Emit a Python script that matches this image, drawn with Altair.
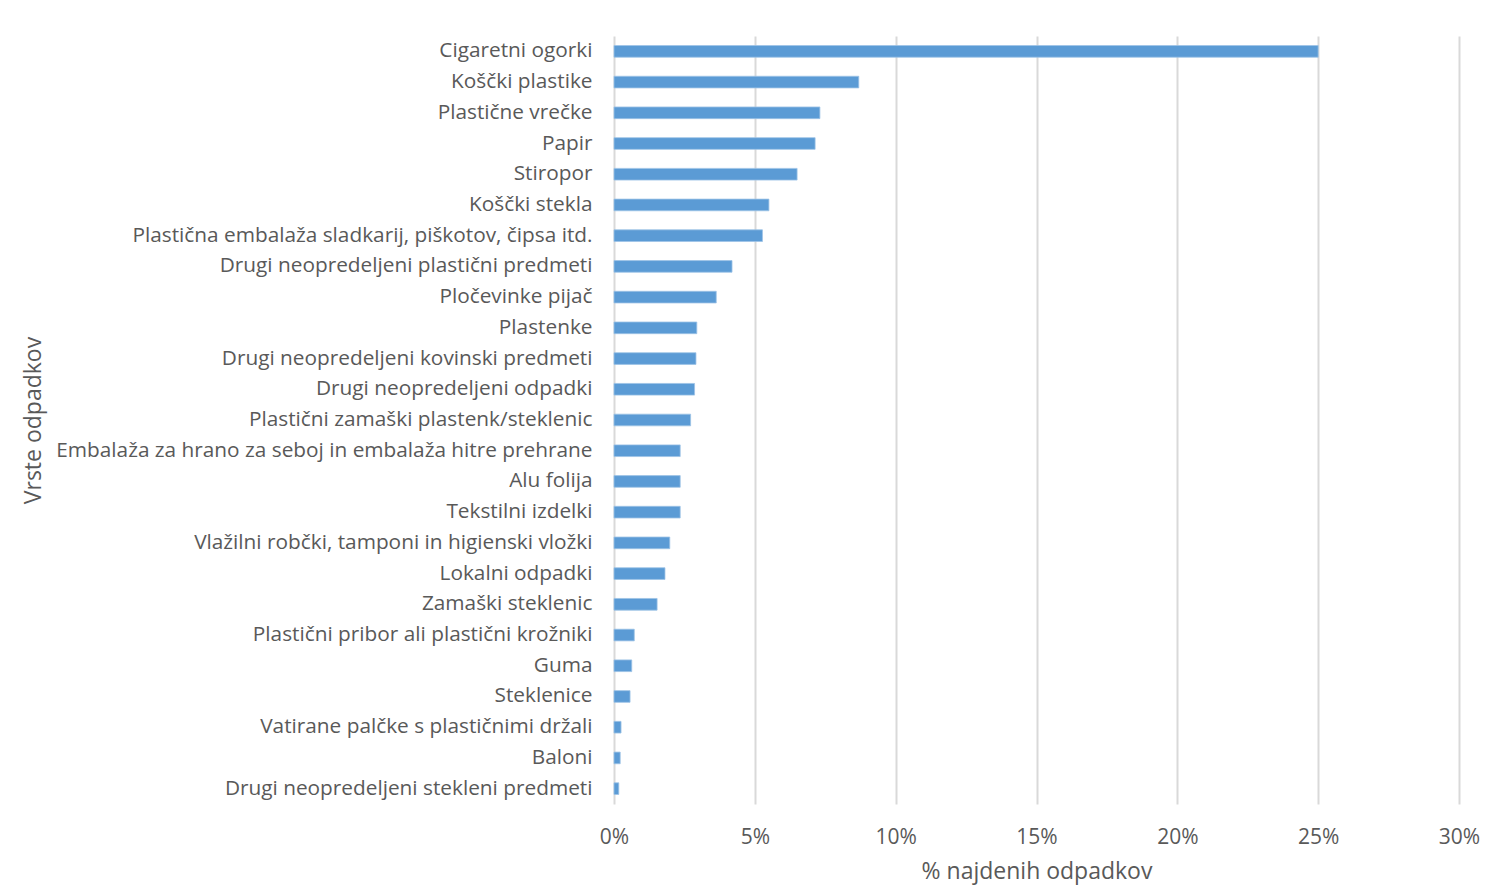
import altair as alt
import pandas as pd

categories = [
    "Cigaretni ogorki",
    "Koščki plastike",
    "Plastične vrečke",
    "Papir",
    "Stiropor",
    "Koščki stekla",
    "Plastična embalaža sladkarij, piškotov, čipsa itd.",
    "Drugi neopredeljeni plastični predmeti",
    "Pločevinke pijač",
    "Plastenke",
    "Drugi neopredeljeni kovinski predmeti",
    "Drugi neopredeljeni odpadki",
    "Plastični zamaški plastenk/steklenic",
    "Embalaža za hrano za seboj in embalaža hitre prehrane",
    "Alu folija",
    "Tekstilni izdelki",
    "Vlažilni robčki, tamponi in higienski vložki",
    "Lokalni odpadki",
    "Zamaški steklenic",
    "Plastični pribor ali plastični krožniki ",
    "Guma",
    "Steklenice",
    "Vatirane palčke s plastičnimi držali",
    "Baloni",
    "Drugi neopredeljeni stekleni predmeti",
]
values = [
    25.0, 8.69, 7.31, 7.14, 6.50, 5.50, 5.27, 4.19, 3.63, 2.94,
    2.91, 2.86, 2.72, 2.35, 2.35, 2.35, 1.98, 1.81, 1.53, 0.72,
    0.63, 0.57, 0.25, 0.22, 0.17,
]
tick_values = [0, 0.05, 0.10, 0.15, 0.20, 0.25, 0.30]

df = pd.DataFrame({"kategorija": categories, "delez": [v / 100 for v in values]})

FONT = "Open Sans"
TXT = "#595959"

chart = (
    alt.Chart(df)
    .mark_bar(color="#5B9BD5", stroke="#9DC3E6", strokeWidth=0.8)
    .encode(
        x=alt.X(
            "delez:Q",
            title="% najdenih odpadkov",
            scale=alt.Scale(domain=[0, 0.30], nice=False),
            axis=alt.Axis(
                format=".0%",
                values=tick_values,
                grid=True,
                gridColor="#d9d9d9",
                gridWidth=2,
                domain=False,
                ticks=False,
                labelFlush=False,
                labelPadding=22,
                labelFontSize=21,
                labelColor=TXT,
                labelFont=FONT,
                titleFont=FONT,
                titleFontSize=23,
                titleFontWeight="normal",
                titleColor=TXT,
                titlePadding=13,
            ),
        ),
        y=alt.Y(
            "kategorija:N",
            sort=categories,
            title="Vrste odpadkov",
            scale=alt.Scale(paddingInner=0.62, paddingOuter=0.31),
            axis=alt.Axis(
                domain=False,
                ticks=False,
                grid=False,
                labelPadding=22,
                labelFontSize=20.8,
                labelColor=TXT,
                labelFont=FONT,
                labelLimit=0,
                titleFont=FONT,
                titleFontSize=23,
                titleFontWeight="normal",
                titleColor=TXT,
                titleAngle=-90,
                titleX=-581,
                titleY=384,
                titleAlign="center",
                titleBaseline="middle",
            ),
        ),
    )
    .properties(
        width=845,
        height=768,
        autosize=alt.AutoSizeParams(type="none"),
        padding={"left": 606, "top": 28, "right": 24, "bottom": 82},
    )
    .configure(background="white")
    .configure_view(stroke=None, strokeWidth=0)
)

chart.save("out.html", embed_options={"renderer": "svg", "actions": False})
